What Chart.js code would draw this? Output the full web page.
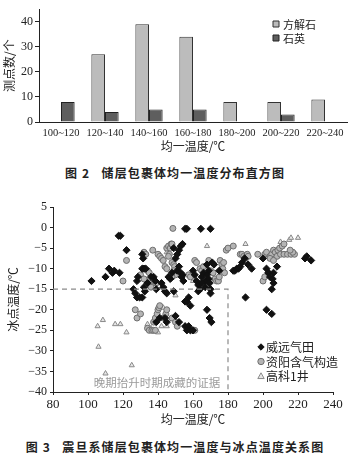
<!DOCTYPE html>
<html>
<head>
<meta charset="utf-8">
<script src="https://cdn.jsdelivr.net/npm/chart.js@4.4.0/dist/chart.umd.min.js"></script>
<style>
  body { margin: 0; background: #fff; width: 350px; height: 455px; position: relative; overflow: hidden; }
  canvas { position: absolute; left: 0; }
  .cap { position: absolute; left: 0; width: 350px; text-align: center; font: bold 12px 'Noto Sans CJK SC'; color: #222; letter-spacing: 1.1px; line-height: 16px; }
</style>
</head>
<body>
<canvas id="chart1" width="350" height="160" style="top:0"></canvas>
<div class="cap" style="top:165px">图 2&nbsp;&nbsp;&nbsp;储层包裹体均一温度分布直方图</div>
<canvas id="chart2" width="350" height="240" style="top:190px"></canvas>
<div class="cap" style="top:439px">图 3&nbsp;&nbsp;&nbsp;震旦系储层包裹体均一温度与冰点温度关系图</div>
<script>
// fig 2 - histogram
const tempBins = ['100~120', '120~140', '140~160', '160~180', '180~200', '200~220', '220~240'];
const calciteCounts = [0, 27, 39, 34, 8, 8, 9];
const quartzCounts = [8, 4, 5, 5, 0, 3, 0];
const countTicks = [0, 10, 20, 30, 40];

// fig 3 - homogenization temp vs ice point
const weiyuanT = [102, 110, 112, 114, 115, 118, 117.5, 118.5, 122, 126, 127, 128, 129.5, 131, 128, 128.5, 131, 132, 133, 131, 131.5, 132, 132.5, 134, 136, 137.5, 138.5, 139, 139, 141, 144, 145, 142, 143, 144, 145, 146, 147, 148, 149, 150, 151, 152, 153, 154, 151, 152, 153, 154, 153.5, 154.5, 150, 152, 149, 155.5, 156.5, 155.5, 156.5, 157.5, 158.5, 155.5, 157.5, 156.5, 158.5, 160, 160, 161, 162, 163, 164, 163, 164.5, 165, 166, 167, 165, 167, 168, 169, 168, 169, 169.5, 170, 170, 168, 169.5, 170.5, 170, 171, 172, 175, 183, 184, 185, 186, 187, 188, 189.5, 191.5, 193.5, 190, 200, 202, 203, 204, 205.5, 206, 206, 205, 202, 205, 208, 224, 225, 227.5];
const weiyuanIce = [-13, -12, -10, -11, -10.5, -11, -2, -2, -5.5, -15, -16, -17, -17, -17, -13, -12, -10, -10, -10, -6.5, -7.5, -14.5, -15.5, -13.5, -12, -12, -13, -15, -23, -22, -22, -23, -13.5, -14.5, -15.5, -16, -12, -12.5, -11, -5, -7.5, -6.5, -5.5, -4.5, -4, -10.5, -9.5, -11, -11.5, -12, -13, -21.5, -23, -15.5, -0.3, -0.3, -18, -18, -17, -19, -24, -24, -25, -25, -25, -10.5, -11.5, -13, -14, -15, -15.5, -0.3, -12, -11, -13, -13.5, -14.5, -9, -10.5, -11.5, -12.5, -13.5, -15, -16, -20, -22, -23, -0.3, -8.5, -9, -10.5, -10.5, -10.5, -10, -10, -9.5, -8.5, -7.5, -9, -10, -17, -7.5, -10, -11, -12, -12.5, -11, -13.5, -15, -20, -21, -9.5, -7.5, -7, -8];

const ziyangT = [120, 122, 127, 128, 130, 132, 133, 130, 132, 134, 135, 137, 135, 136, 138, 139, 134, 135, 136.5, 137.5, 138.5, 137.5, 138.5, 139.5, 140, 140.5, 141, 143, 144.5, 145, 140, 141, 142, 143, 144, 145, 145, 146, 147, 147.5, 146.5, 146, 148, 148.5, 148, 150, 151, 148, 149, 149.5, 149, 150, 148, 157.5, 158.5, 160, 161, 161, 162, 164, 165, 166, 167.5, 166, 169, 170, 171.5, 172.5, 173.5, 174.5, 175, 175.5, 176.5, 177.5, 177, 178, 179, 180, 183, 187, 188, 189, 190, 191, 191.5, 197, 200, 201, 203, 201, 202, 204, 205, 206, 207, 208, 208.5, 209.5, 211, 212, 210, 212, 214, 216, 218, 217, 215.5, 204, 206];
const ziyangIce = [-13, -8, -20, -22, -21, -6, -6.5, -11.5, -12.5, -10.5, -11, -5.5, -13.5, -14.5, -13, -13.5, -24.5, -25, -25, -25, -25, -23, -22, -21, -20, -19.5, -19, -22, -21, -20, -6.5, -7, -7.5, -8, -9.5, -10, -5, -4.5, -5, -4, -6.5, -7, -4, -0.2, -22, -23, -24, -8.5, -9, -9.5, -10.5, -11.5, -12, -11.5, -12, -25, -25, -8, -8.5, -10, -10.5, -9.5, -12.5, -13.5, -8, -10.5, -11, -12.5, -13, -13, -12, -8, -9, -8.5, -10, -11, -5.5, -5, -4.5, -6.5, -6.5, -7, -7.5, -6.5, -7, -6.5, -13, -12, -11, -6.5, -6, -7, -6.5, -5.5, -6, -7, -5.5, -5, -4.5, -4, -6.5, -6.5, -6.5, -6.5, -6.5, -6, -5.5, -7.5, -8];

const gaokeT = [105.5, 106, 108.5, 110, 115.5, 118.5, 122, 125, 134, 136, 140, 142, 143, 145, 150, 145, 168, 190, 210, 215, 216, 220, 134, 160];
const gaokeIce = [-24, -29, -22.5, -35.5, -23.5, -23.5, -25.5, -33.5, -23.5, -24.5, -25.5, -24, -19.5, -24, -16.5, -6, -4.5, -4, -3.5, -3, -2.5, -2.5, -13, -13];

// dashed guide: ice point < -15 and Th < 180
const guideT = [80, 180, 180];
const guideIce = [-15, -15, -40];
const noteText = '晚期抬升时期成藏的证据';

const pts = (xs, ys) => xs.map((x, i) => ({ x: x, y: ys[i] }));

const numFont = "'Liberation Serif', 'Noto Sans CJK SC', serif";
const cjkFont = "'Noto Sans CJK SC', sans-serif";
const minus = v => (v < 0 ? '\u2212' + Math.abs(v) : '' + v);

function drawMarker(ctx, shape, x, y, r, fill, stroke) {
    ctx.beginPath();
    if (shape === 'rect') {
        ctx.rect(x - r, y - r, r * 2, r * 2);
    } else if (shape === 'rectRot') {
        ctx.moveTo(x, y - r); ctx.lineTo(x + r, y); ctx.lineTo(x, y + r); ctx.lineTo(x - r, y); ctx.closePath();
    } else if (shape === 'circle') {
        ctx.arc(x, y, r, 0, Math.PI * 2);
    } else {
        ctx.moveTo(x, y - r); ctx.lineTo(x + r, y + r * 0.8); ctx.lineTo(x - r, y + r * 0.8); ctx.closePath();
    }
    ctx.fillStyle = fill; ctx.fill();
    ctx.strokeStyle = stroke; ctx.lineWidth = 1; ctx.stroke();
}

// small legend drawn inside the plot
const cornerLegend = {
    id: 'cornerLegend',
    afterDraw(chart, args, opts) {
        const ctx = chart.ctx;
        ctx.save();
        ctx.font = opts.font;
        ctx.textBaseline = 'middle';
        chart.data.datasets.filter(d => d.label).forEach((d, i) => {
            const y = opts.y + i * opts.gap;
            const shape = opts.shape || d.pointStyle;
            drawMarker(ctx, shape, opts.x, y, opts.r, d.backgroundColor, d.borderColor);
            ctx.fillStyle = '#222';
            ctx.fillText(d.label, opts.x + opts.textGap, y + 0.5);
        });
        ctx.restore();
    }
};

const chart1 = new Chart(document.getElementById('chart1').getContext('2d'), {
    type: 'bar',
    data: {
        labels: tempBins,
        datasets: [
            { label: '方解石', data: calciteCounts, backgroundColor: '#bcbcbc', borderColor: '#333', borderWidth: 1 },
            { label: '石英', data: quartzCounts, backgroundColor: '#5e5e5e', borderColor: '#222', borderWidth: 1 }
        ]
    },
    options: {
        responsive: false,
        animation: false,
        layout: { padding: { top: 1, right: 3, left: 0, bottom: 0 } },
        datasets: { bar: { categoryPercentage: 0.62, barPercentage: 1 } },
        scales: {
            x: {
                grid: { display: false, drawTicks: false },
                border: { color: '#222' },
                ticks: { color: '#222', font: { family: numFont, size: 10.5 }, padding: 5, maxRotation: 0, autoSkip: false },
                title: { display: true, text: '均一温度/℃', color: '#222', font: { family: cjkFont, size: 12 }, padding: { top: 0, bottom: 6 } },
                afterFit: s => { s.height = 38; }
            },
            y: {
                min: 0, max: 45,
                grid: { drawOnChartArea: false, tickLength: 4, color: '#222' },
                border: { color: '#222' },
                ticks: { stepSize: 10, color: '#222', font: { family: numFont, size: 12 }, padding: 2 },
                afterBuildTicks: s => { s.ticks = countTicks.map(v => ({ value: v })); },
                title: { display: true, text: '测点数/个', color: '#222', font: { family: cjkFont, size: 12 }, padding: { top: 2, bottom: 0 } },
                afterFit: s => { s.width = 39; }
            }
        },
        plugins: {
            legend: { display: false },
            tooltip: { enabled: false },
            cornerLegend: { x: 276, y: 24, gap: 14, r: 3, shape: 'rect', textGap: 7, font: '11px ' + cjkFont }
        }
    },
    plugins: [cornerLegend]
});

const noteLabel = {
    id: 'noteLabel',
    afterDatasetsDraw(chart) {
        const { ctx, scales } = chart;
        ctx.save();
        ctx.font = '11.5px ' + cjkFont;
        ctx.fillStyle = '#9a9a9a';
        ctx.textBaseline = 'middle';
        ctx.fillText(noteText, scales.x.getPixelForValue(103.3), scales.y.getPixelForValue(-37.7));
        ctx.restore();
    }
};

const chart2 = new Chart(document.getElementById('chart2').getContext('2d'), {
    type: 'scatter',
    data: {
        datasets: [
            { data: pts(guideT, guideIce), showLine: true, borderColor: '#8a8a8a', borderDash: [5, 4], borderWidth: 1.2, pointRadius: 0, fill: false },
            { label: '威远气田', data: pts(weiyuanT, weiyuanIce), pointStyle: 'rectRot', pointRadius: 3.6, backgroundColor: '#111', borderColor: '#111', borderWidth: 1 },
            { label: '资阳含气构造', data: pts(ziyangT, ziyangIce), pointStyle: 'circle', pointRadius: 3, backgroundColor: '#b4b4b4', borderColor: '#6e6e6e', borderWidth: 1 },
            { label: '高科1井', data: pts(gaokeT, gaokeIce), pointStyle: 'triangle', pointRadius: 3, backgroundColor: '#e6e6e6', borderColor: '#8a8a8a', borderWidth: 1 }
        ]
    },
    options: {
        responsive: false,
        animation: false,
        layout: { padding: { top: 17, right: 17, left: 0, bottom: 0 } },
        scales: {
            x: {
                type: 'linear', min: 80, max: 240,
                grid: { drawOnChartArea: false, tickLength: 3, color: '#222' },
                border: { color: '#222' },
                ticks: { stepSize: 20, color: '#222', font: { family: numFont, size: 13 }, padding: 2, maxRotation: 0 },
                title: { display: true, text: '均一温度/℃', color: '#222', font: { family: cjkFont, size: 12 }, padding: { top: 0, bottom: 3 } },
                afterFit: s => { s.height = 38; }
            },
            y: {
                min: -40, max: 5,
                grid: { drawOnChartArea: false, tickLength: 3, color: '#222' },
                border: { color: '#222' },
                ticks: { stepSize: 5, color: '#222', font: { family: numFont, size: 12 }, padding: 3, callback: minus },
                title: { display: true, text: '冰点温度/℃', color: '#222', font: { family: cjkFont, size: 12 }, padding: { top: 6, bottom: 0 } },
                afterFit: s => { s.width = 53; }
            }
        },
        plugins: {
            legend: { display: false },
            tooltip: { enabled: false },
            cornerLegend: { x: 261, y: 157, gap: 14.5, r: 3.2, textGap: 5, font: '12px ' + cjkFont }
        }
    },
    plugins: [noteLabel, cornerLegend]
});
</script>
</body>
</html>
